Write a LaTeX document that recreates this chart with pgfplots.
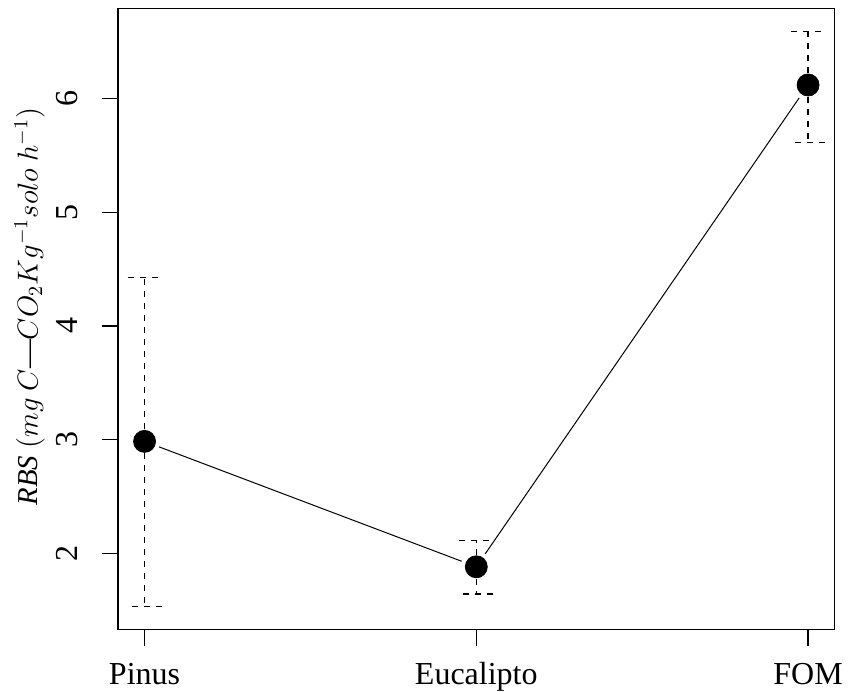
\documentclass[border=0pt]{standalone}
\usepackage{fontspec}
\setmainfont{Liberation Serif}
\usepackage{pgfplots}
\usepackage{pgfplotstable}
\pgfplotsset{compat=1.18}
\pgfplotstableread{
x y ep em
1 2.985 1.441 1.455
2 1.882 0.229 0.240
3 6.119 0.468 0.508
}\rbsdata
\begin{document}
\fontsize{16.5}{20}\selectfont
\begin{tikzpicture}
\begin{axis}[
 at={(0,0)}, anchor=south west,
 scale only axis, width=358.3pt, height=310.5pt,
 xmin=0.92, xmax=3.08, ymin=1.328, ymax=6.789,
 xtick={1,2,3}, xticklabels={Pinus,Eucalipto,FOM},
 ytick={2,3,4,5,6},
 xtick pos=bottom, ytick pos=left,
 tick align=outside, major tick length=8pt,
 tick style={black, line width=0.6pt},
 axis line style={line width=0.6pt},
 /pgf/number format/assume math mode=true,
 ticklabel style={font=\fontsize{16}{20}\selectfont},
 yticklabel style={rotate=90, anchor=south, inner ysep=12pt},
 xticklabel style={anchor=north, text height=12pt, text depth=3pt, yshift=-1.5pt},
 clip=false,
]
\addplot[black, line width=0.5pt, shorten <=7.8pt, shorten >=7.8pt] coordinates {(1,2.985) (2,1.882)};
\addplot[black, line width=0.5pt, shorten <=7.8pt, shorten >=7.8pt] coordinates {(2,1.882) (3,6.119)};
\addplot[black, only marks, mark=*, mark size=5.5pt,
  error bars/.cd, y dir=both, y explicit,
  error bar style={black, line width=0.6pt, dash pattern=on 3pt off 3pt},
  error mark options={rotate=90, mark size=8.5pt, black, line width=0.6pt, dash pattern=on 3pt off 3pt}]
  table[x=x, y=y, y error plus=ep, y error minus=em] {\rbsdata};
\node[rotate=90, anchor=base, font=\fontsize{14.4}{18}\selectfont] at (axis description cs:-0.112,0.5205)
  {\textit{RBS} $(mg\ C\mbox{—}CO_2Kg^{-1}solo\ h^{-1})$};
\end{axis}
\pgfresetboundingbox
\path (-59pt,-30.65pt) rectangle (366.5pt,314.9pt);
\end{tikzpicture}
\end{document}
